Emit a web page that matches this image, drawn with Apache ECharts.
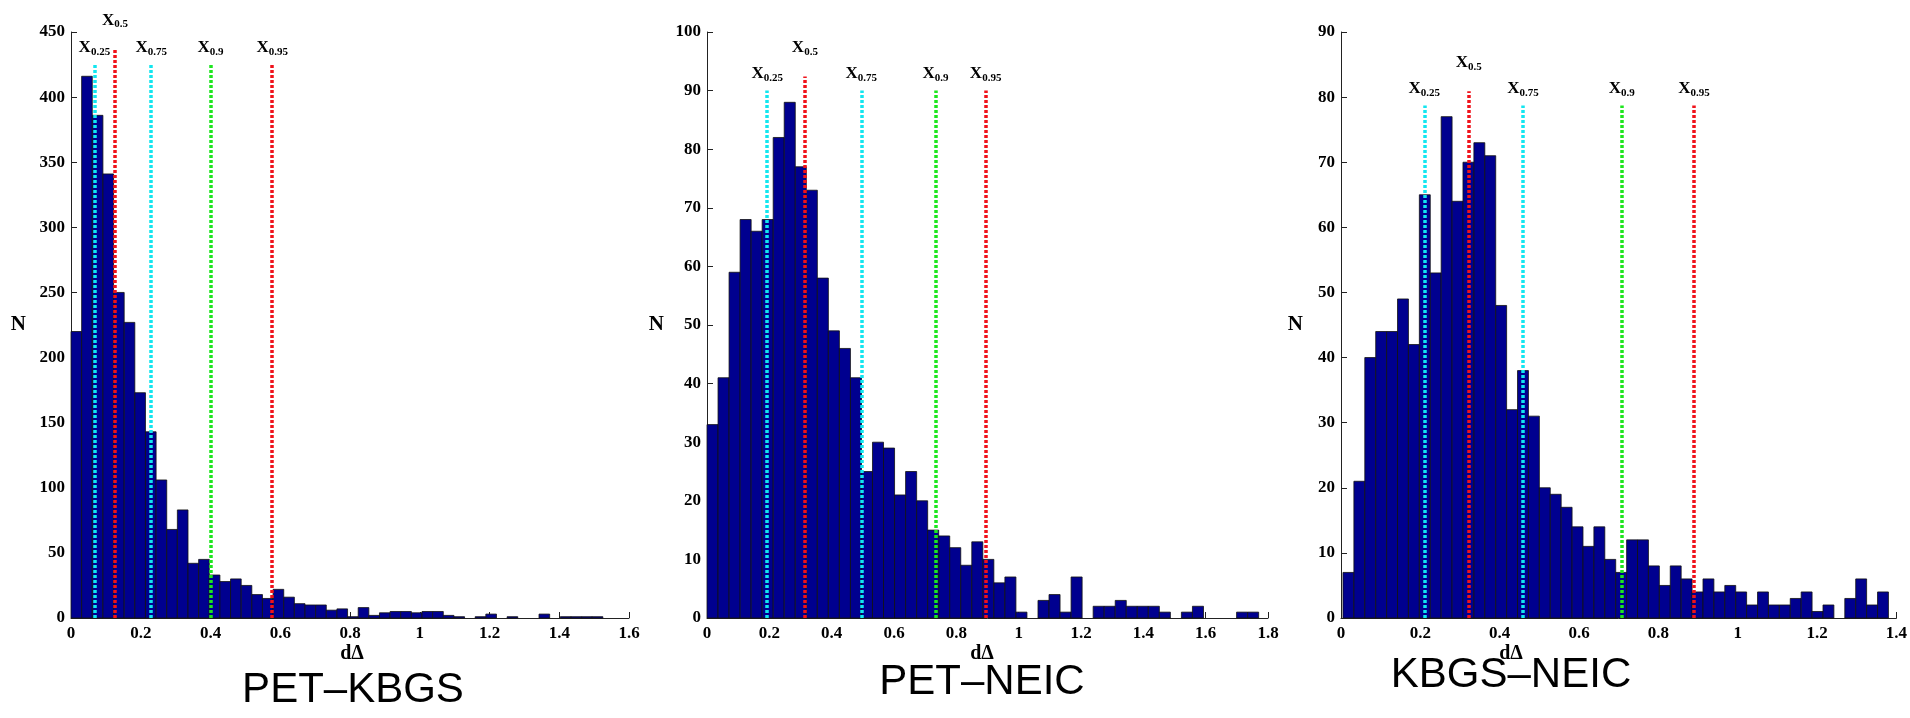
<!DOCTYPE html>
<html>
<head>
<meta charset="utf-8">
<script src="https://cdn.jsdelivr.net/npm/echarts@6/dist/echarts.min.js"></script>
<style>
  html, body { margin: 0; padding: 0; background: #fff; }
  #chart { width: 1910px; height: 718px; }
</style>
</head>
<body>
<div id="chart"></div>
<script>
// histogram counts, 50 bins per panel
var countsKbgs = [220, 416, 386, 341, 250, 227, 173, 143, 106, 68, 83, 42, 45, 33, 28, 30, 25, 18, 15, 22,
    16, 11, 10, 10, 6, 7, 1, 8, 2, 4, 5, 5, 4, 5, 5, 2, 1, 0, 1, 3, 0, 1, 0, 0, 3, 0, 1, 1, 1, 1];
var countsNeic = [33, 41, 59, 68, 66, 68, 82, 88, 77, 73, 58, 49, 46, 41, 25, 30, 29, 21, 25, 20,
    15, 14, 12, 9, 13, 10, 6, 7, 1, 0, 3, 4, 1, 7, 0, 2, 2, 3, 2, 2, 2, 1, 0, 1, 2, 0, 0, 0, 1, 1];
var countsKbgsNeic = [7, 21, 40, 44, 44, 49, 42, 65, 53, 77, 64, 70, 73, 71, 48, 32, 38, 31, 20, 19,
    17, 14, 11, 14, 9, 7, 12, 12, 8, 5, 8, 6, 4, 6, 4, 5, 4, 2, 4, 2, 2, 3, 4, 1, 2, 0, 3, 6, 2, 4];

// bin start / width in dΔ
var binStart = [0, 0, 0.005];
var binWidth = [0.0305, 0.0354, 0.0275];

// quantiles x0.25, x0.5, x0.75, x0.9, x0.95
var quantNames = ['0.25', '0.5', '0.75', '0.9', '0.95'];
var quantKbgs = [0.067, 0.126, 0.23, 0.40, 0.577];
var quantNeic = [0.193, 0.314, 0.495, 0.733, 0.894];
var quantKbgsNeic = [0.21, 0.322, 0.459, 0.708, 0.89];
var quantTop = [[425, 437, 425, 425, 425], [90, 92.4, 90, 90, 90], [78.7, 80.9, 78.7, 78.7, 78.7]];

// axes
var xMax = [1.6, 1.8, 1.4];
var yMax = [450, 100, 90];
var yStep = [50, 10, 10];
var titles = ['PET\u2013KBGS', 'PET\u2013NEIC', 'KBGS\u2013NEIC'];

var quantColors = ['#12e6f0', '#f0121a', '#12e6f0', '#1ee61e', '#f0121a'];
var serif = 'Liberation Serif';

var myChart = echarts.init(document.getElementById('chart'));

function renderBin(params, api) {
    var h = api.value(2);
    if (!h) return null;
    var p0 = api.coord([api.value(0), h]);
    var p1 = api.coord([api.value(1), 0]);
    return {
        type: 'rect',
        shape: { x: p0[0], y: p0[1], width: p1[0] - p0[0], height: p1[1] - p0[1] },
        style: { fill: '#00008f', stroke: '#111', lineWidth: 0.8 }
    };
}

function binData(counts, k) {
    return counts.map(function (c, i) {
        return [binStart[k] + i * binWidth[k], binStart[k] + (i + 1) * binWidth[k], c];
    });
}

function quantLines(q, k) {
    return q.map(function (v, i) {
        return [
            {
                coord: [v, 0],
                lineStyle: { color: quantColors[i] },
                label: { formatter: '{x|X}{s|' + quantNames[i] + '}', distance: i === 1 ? 19 : 7 }
            },
            { coord: [v, quantTop[k][i]] }
        ];
    });
}

var grids = [
    { left: 71, width: 558, top: 32, height: 586 },
    { left: 707, width: 561, top: 32, height: 586 },
    { left: 1341, width: 559, top: 32, height: 586 }
];
var nameGaps = [45, 43, 38];

var xAxes = [], yAxes = [], series = [];
var allCounts = [countsKbgs, countsNeic, countsKbgsNeic];
var allQuant = [quantKbgs, quantNeic, quantKbgsNeic];

for (var k = 0; k < 3; k++) {
    xAxes.push({
        type: 'value', gridIndex: k, min: 0, max: xMax[k], interval: 0.2,
        axisLine: { show: true, onZero: false, lineStyle: { color: '#222', width: 1 } },
        axisTick: { show: true, inside: true, length: 6, lineStyle: { color: '#222' } },
        splitLine: { show: false },
        axisLabel: { color: '#000', fontFamily: serif, fontWeight: 'bold', fontSize: 17, margin: 7 }
    });
    yAxes.push({
        type: 'value', gridIndex: k, min: 0, max: yMax[k], interval: yStep[k],
        name: 'N', nameLocation: 'middle', nameGap: nameGaps[k], nameRotate: 0,
        nameTextStyle: { color: '#000', fontFamily: serif, fontWeight: 'bold', fontSize: 21 },
        axisLine: { show: true, lineStyle: { color: '#222', width: 1 } },
        axisTick: { show: true, inside: true, length: 6, lineStyle: { color: '#222' } },
        splitLine: { show: false },
        axisLabel: { color: '#000', fontFamily: serif, fontWeight: 'bold', fontSize: 17, margin: 6 }
    });
    series.push({
        type: 'custom',
        xAxisIndex: k, yAxisIndex: k,
        renderItem: renderBin,
        encode: { x: [0, 1], y: 2 },
        data: binData(allCounts[k], k),
        silent: true,
        markLine: {
            silent: true,
            symbol: ['none', 'none'],
            animation: false,
            lineStyle: { type: [3, 2], width: 3.5 },
            label: {
                show: true,
                position: 'end',
                color: '#000',
                rich: {
                    x: { fontFamily: serif, fontWeight: 'bold', fontSize: 17, lineHeight: 18, verticalAlign: 'top', color: '#000' },
                    s: { fontFamily: serif, fontWeight: 'bold', fontSize: 11, lineHeight: 6, verticalAlign: 'bottom', color: '#000' }
                }
            },
            data: quantLines(allQuant[k], k)
        }
    });
}

var option = {
    animation: false,
    backgroundColor: '#fff',
    grid: grids,
    xAxis: xAxes,
    yAxis: yAxes,
    series: series,
    graphic: [
        { type: 'text', x: 352, y: 654, style: { text: 'd\u0394', font: 'bold 20px "Liberation Serif"', fill: '#000', align: 'center', verticalAlign: 'middle' } },
        { type: 'text', x: 982, y: 654, style: { text: 'd\u0394', font: 'bold 20px "Liberation Serif"', fill: '#000', align: 'center', verticalAlign: 'middle' } },
        { type: 'text', x: 1511, y: 654, style: { text: 'd\u0394', font: 'bold 20px "Liberation Serif"', fill: '#000', align: 'center', verticalAlign: 'middle' } },
        { type: 'text', x: 353, y: 690, style: { text: titles[0], font: '42px "Liberation Sans"', fill: '#000', align: 'center', verticalAlign: 'middle' } },
        { type: 'text', x: 982, y: 682, style: { text: titles[1], font: '42px "Liberation Sans"', fill: '#000', align: 'center', verticalAlign: 'middle' } },
        { type: 'text', x: 1511, y: 675, style: { text: titles[2], font: '42px "Liberation Sans"', fill: '#000', align: 'center', verticalAlign: 'middle' } }
    ]
};

if (option && typeof option === 'object') {
    myChart.setOption(option);
}
</script>
</body>
</html>
